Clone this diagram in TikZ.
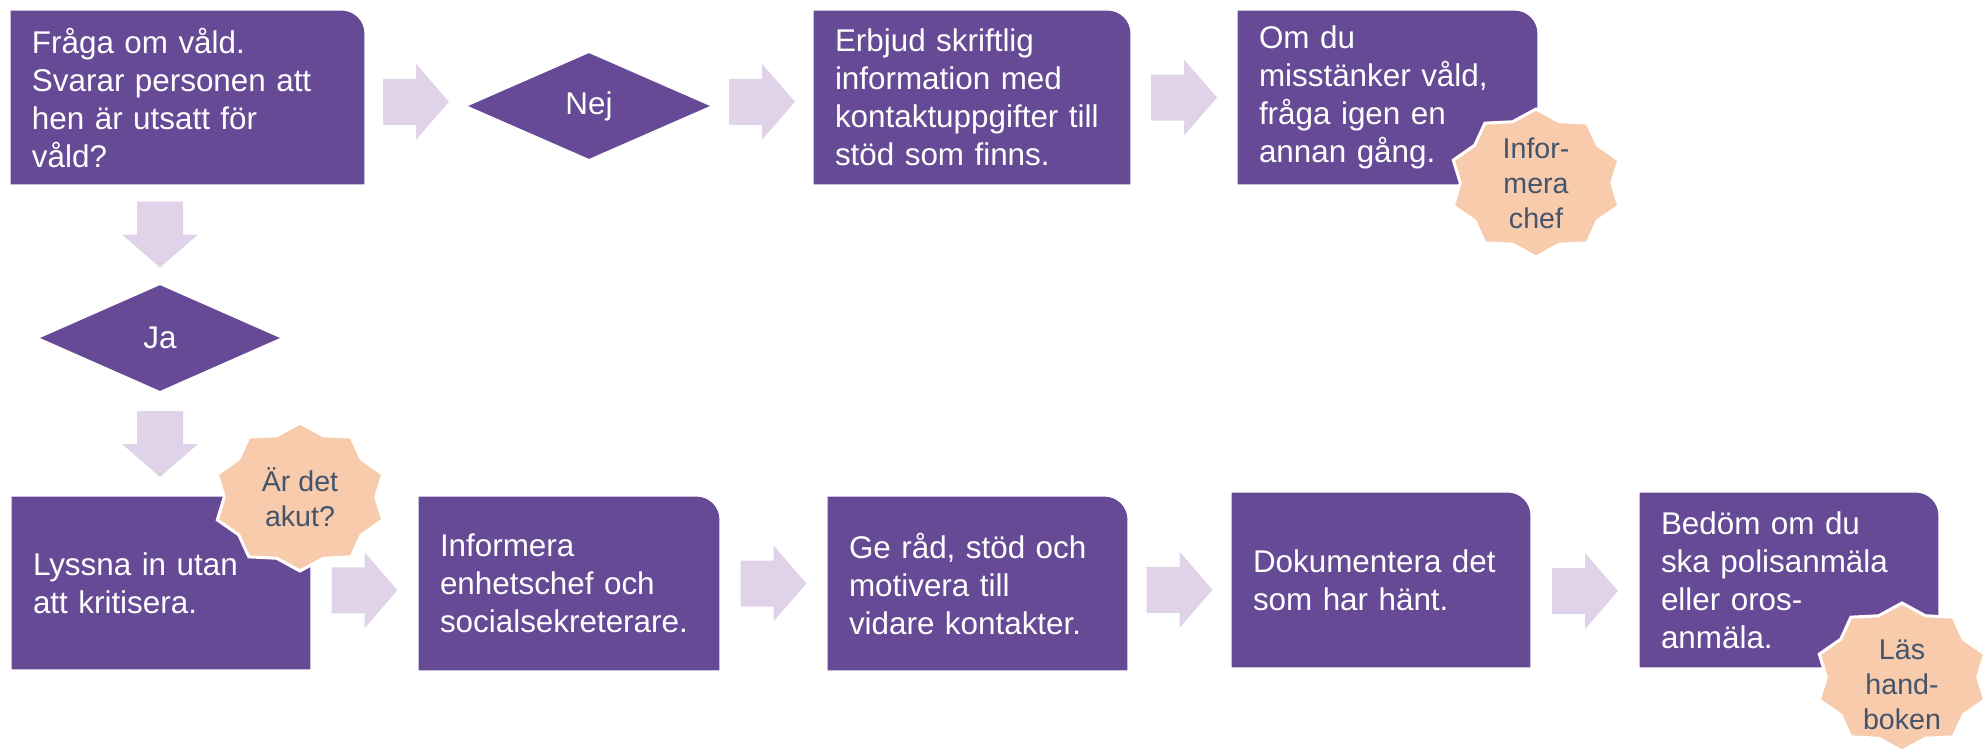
\documentclass[tikz,border=0pt]{standalone}
\usepackage{fontspec}
\setmainfont{Liberation Sans}
\usetikzlibrary{shapes.geometric,calc}
\definecolor{boxpurple}{RGB}{102,74,150}
\definecolor{arrowlav}{RGB}{224,211,233}
\definecolor{peach}{RGB}{248,203,173}
\definecolor{slate}{RGB}{68,84,106}
\pgfdeclarelayer{bg}
\pgfsetlayers{bg,main}
\newcommand\boxfill[1]{\fill[boxpurple] (#1.south west) -- (#1.north west) -- ([xshift=-11.5pt]#1.north east) arc[start angle=90,end angle=0,radius=11.5pt] -- (#1.south east) -- cycle;}
\newcommand\burstfill[1]{\filldraw[burst] ($(#1)+(90:87 and 74)$) \foreach \a in {0,36,...,324}{ -- ($(#1)+({108+\a}:75.7 and 64.4)$) -- ($(#1)+({126+\a}:87 and 74)$)} -- cycle;}
\begin{document}
\begin{tikzpicture}[x=0.5pt,y=0.5pt,
  box/.style={rectangle, inner sep=0pt, inner xsep=10.5pt, text=white,
    font=\fontsize{15.7pt}{19pt}\selectfont, align=left, minimum height=86.5pt},
  dia/.style={diamond, fill=boxpurple, text=white, inner sep=0pt,
    font=\fontsize{15.7pt}{19pt}\selectfont},
  burst/.style={fill=peach, draw=white, line width=1.5pt, line join=miter},
  bursttext/.style={text=slate, align=center, inner sep=0pt,
    font=\fontsize{14.3pt}{17.5pt}\selectfont},
  rarrow/.pic={\fill[arrowlav] (-33,23) -- (0,23) -- (0,38) -- (33,0) -- (0,-38) -- (0,-23) -- (-33,-23) -- cycle;}
]
\useasboundingbox (0,0) rectangle (1984,-750);
\begin{pgfonlayer}{bg}
\fill[white] (0,0) rectangle (1984,-750);
\end{pgfonlayer}

% top row
\node[box, minimum width=176.5pt, text width=155.5pt] (A) at (187.5,-97.5)
  {Fråga om våld.\\Svarar personen att\\hen är utsatt för\\våld?};
\node[dia, minimum width=121pt, minimum height=53pt] (nej) at (589,-106) {Nej};
\node[box, minimum width=158pt, text width=137pt] (erb) at (972,-97.5)
  {Erbjud skriftlig\\information med\\kontaktuppgifter till\\stöd som finns.};
\node[box, minimum width=149.5pt, text width=128.5pt] (omdu) at (1387.5,-97.5)
  {Om du\\misstänker våld,\\fråga igen en\\annan gång.};

% left column
\node[dia, minimum width=120pt, minimum height=53pt] (ja) at (160,-338) {Ja};

% bottom row
\node[box, minimum width=149pt, text width=128pt, minimum height=86pt] (lys) at (161,-583)
  {Lyssna in utan\\att kritisera.};
\node[box, minimum width=150pt, text width=129pt] (inf) at (569,-583.5)
  {Informera\\enhetschef och\\socialsekreterare.};
\node[box, minimum width=149.5pt, text width=128.5pt] (ger) at (977.5,-583.5)
  {Ge råd, stöd och\\motivera till\\vidare kontakter.};
\node[box, minimum width=149pt, text width=128pt, minimum height=87pt] (dok) at (1381,-580)
  {Dokumentera det\\som har hänt.};
\node[box, minimum width=149pt, text width=128pt, minimum height=87pt] (bed) at (1789,-580)
  {Bedöm om du\\ska polisanmäla\\eller oros-\\anmäla.};

\begin{pgfonlayer}{bg}
\boxfill{A}\boxfill{erb}\boxfill{omdu}
\boxfill{lys}\boxfill{inf}\boxfill{ger}\boxfill{dok}\boxfill{bed}
\end{pgfonlayer}

% block arrows
\pic at ($(A.east)!.5!(nej.west)$) {rarrow};
\pic at ($(nej.east)!.5!(erb.west)$) {rarrow};
\pic at ($(erb.east)!.5!(omdu.west)$) {rarrow};
\pic[rotate=-90] at ($(ja.north)!.5!(ja.north|-A.south)$) {rarrow};
\pic[rotate=-90] at ($(ja.south)!.5!(ja.south|-lys.north)$) {rarrow};
\pic at ($($(lys.east)!.5!(inf.west)$)+(0,-7)$) {rarrow};
\pic at ($(inf.east)!.5!(ger.west)$) {rarrow};
\pic at ($($(ger.east)!.5!(dok.west)$)+(0,-8)$) {rarrow};
\pic at ($($(dok.east)!.5!(bed.west)$)+(0,-11)$) {rarrow};

% starbursts
\coordinate (s1c) at (1536,-183);
\burstfill{s1c}
\node[bursttext] (s1) at (s1c) {Infor-\\mera\\chef};
\coordinate (s2c) at (300,-497);
\burstfill{s2c}
\node[bursttext] (s2) at (s2c) {Är det\\akut?};
\coordinate (s3c) at (1902,-677);
\burstfill{s3c}
\node[bursttext] (s3) at ([yshift=-4]s3c) {Läs\\hand-\\boken};
\end{tikzpicture}
\end{document}
